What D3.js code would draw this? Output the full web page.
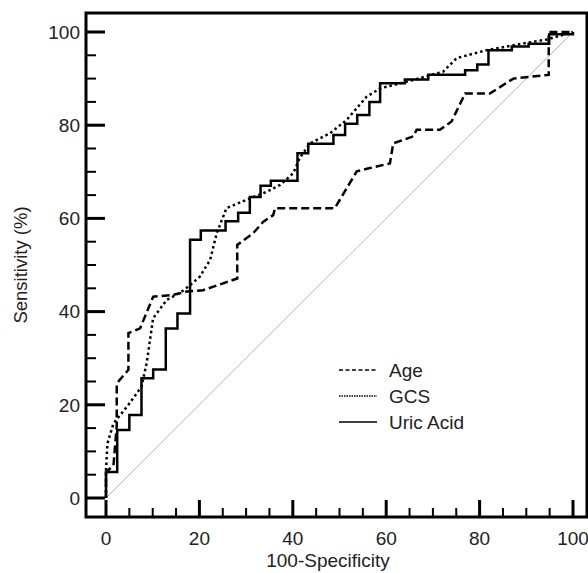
<!DOCTYPE html>
<html>
<head>
<meta charset="utf-8">
<script src="https://cdn.jsdelivr.net/npm/d3@7"></script>
<style>
  body { margin: 0; background: #fff; }
  text { font-family: "Liberation Sans", Arial, sans-serif; fill: #222; }
</style>
</head>
<body>
<div id="chart"></div>
<script>
// ===================== DATA =====================
// ROC curves (x = 100-Specificity, y = Sensitivity)

var ageX = [0, 0, 1.6, 2.3, 2.3, 4.8, 4.8, 7.3, 10.1, 14.4, 17.3, 20.8, 28.1, 28.1, 31.5, 33.7, 35.8, 36.2, 49.0, 53.7, 56.5, 60.8, 61.5, 65.8, 66.5, 71.5, 74.0, 76.9, 82.2, 87.2, 94.8, 94.8, 100];
var ageY = [0, 5.5, 7, 15.5, 24.6, 27.5, 35.4, 36.4, 43.2, 43.6, 44.3, 44.6, 47.1, 54.3, 56.8, 59.3, 60.7, 62.2, 62.2, 70.1, 70.8, 71.8, 76.1, 77.6, 79.0, 79.0, 80.8, 86.8, 86.8, 90.0, 90.8, 100, 100];

var gcsX = [0, 0, 0.3, 1.6, 4.8, 7.6, 8.7, 10.1, 13.0, 15.8, 17.8, 20.1, 22.3, 23.7, 25.8, 30.1, 34.4, 37.3, 40.1, 41.5, 43.7, 48.0, 51.5, 55.8, 58.7, 65.8, 72.2, 75.1, 81.5, 88.0, 94.4, 100];
var gcsY = [0, 6, 11.7, 16, 20, 23.9, 28.9, 38.6, 42.5, 44, 45.5, 47.5, 51.1, 56.8, 62.2, 64, 65.7, 67.2, 69.7, 73, 76.1, 78.3, 81.1, 86.1, 87.9, 89.7, 91.5, 94.4, 96.1, 97.3, 98.4, 100];

// step curve: each point is the top of a vertical rise
var uricX = [0, 0, 2.4, 5.0, 7.6, 10.1, 12.8, 15.3, 18.0, 20.3, 25.6, 28.3, 30.8, 33.1, 35.3, 41.0, 43.3, 48.7, 51.2, 53.8, 56.4, 58.7, 64.0, 69.0, 76.9, 79.5, 81.9, 86.9, 90.5, 94.9, 94.9, 100];
var uricY = [0, 5.6, 14.6, 17.8, 25.7, 27.6, 36.4, 39.6, 55.4, 57.4, 59.4, 61.2, 64.6, 67.0, 68.1, 74.0, 76.0, 77.9, 80.3, 82.2, 85.0, 89.0, 89.8, 90.8, 91.8, 93.0, 96.1, 96.9, 97.5, 98.3, 99.5, 100];

var seriesNames = ["Age", "GCS", "Uric Acid"];
var xTicks = [0, 20, 40, 60, 80, 100];
var yTicks = [0, 20, 40, 60, 80, 100];
var minorTicks = d3.range(0, 101, 5);

// ===================== LAYOUT =====================
var svgWidth = 588;
var svgHeight = 573;

// frame of the plot box
var boxLeft = 86, boxRight = 587, boxTop = 13, boxBottom = 517;

var svg = d3.select("#chart").append("svg")
  .attr("width", svgWidth)
  .attr("height", svgHeight);

var xScale = d3.scaleLinear().domain([0, 100]).range([106, 573]);
var yScale = d3.scaleLinear().domain([0, 100]).range([498, 32]);

function toPoints(xs, ys) {
  return xs.map((x, i) => [x, ys[i]]);
}

// ===================== FRAME & AXES =====================
var frame = svg.append("g");
frame.append("path")
  .attr("d", `M${boxLeft},${boxBottom}V${boxTop}H${boxRight}V${boxBottom}Z`)
  .attr("fill", "none")
  .attr("stroke", "#000")
  .attr("stroke-width", 3);

// y ticks (pointing inward)
frame.selectAll("line.yminor")
  .data(minorTicks)
  .enter()
  .append("line")
  .attr("x1", boxLeft)
  .attr("x2", d => yTicks.includes(d) ? boxLeft + 19 : boxLeft + 10)
  .attr("y1", d => yScale(d))
  .attr("y2", d => yScale(d))
  .attr("stroke", "#000")
  .attr("stroke-width", d => yTicks.includes(d) ? 3 : 2);

// x ticks (pointing up)
frame.selectAll("line.xminor")
  .data(minorTicks)
  .enter()
  .append("line")
  .attr("x1", d => xScale(d))
  .attr("x2", d => xScale(d))
  .attr("y1", boxBottom)
  .attr("y2", d => xTicks.includes(d) ? boxBottom - 17 : boxBottom - 9)
  .attr("stroke", "#000")
  .attr("stroke-width", d => xTicks.includes(d) ? 3 : 2);

frame.selectAll("text.ylab")
  .data(yTicks)
  .enter()
  .append("text")
  .attr("x", 80)
  .attr("y", d => yScale(d))
  .attr("dy", "0.36em")
  .attr("text-anchor", "end")
  .style("font-size", "19px")
  .text(d => d);

frame.selectAll("text.xlab")
  .data(xTicks)
  .enter()
  .append("text")
  .attr("x", d => xScale(d))
  .attr("y", 545)
  .attr("text-anchor", "middle")
  .style("font-size", "19px")
  .text(d => d);

svg.append("text")
  .attr("x", 328)
  .attr("y", 567)
  .attr("text-anchor", "middle")
  .style("font-size", "19px")
  .text("100-Specificity");

svg.append("text")
  .attr("transform", "translate(27, 265) rotate(-90)")
  .attr("text-anchor", "middle")
  .style("font-size", "18.5px")
  .text("Sensitivity (%)");

// ===================== CURVES =====================
var line = d3.line().x(d => xScale(d[0])).y(d => yScale(d[1]));
var stepLine = d3.line().x(d => xScale(d[0])).y(d => yScale(d[1])).curve(d3.curveStepAfter);

// reference diagonal
svg.append("path")
  .attr("d", line([[0, 0], [100, 100]]))
  .attr("fill", "none")
  .attr("stroke", "#b4b4b4")
  .attr("stroke-width", 1);

svg.append("path")
  .attr("d", line(toPoints(ageX, ageY)))
  .attr("fill", "none")
  .attr("stroke", "#000")
  .attr("stroke-width", 2.5)
  .attr("stroke-dasharray", "8,4");

svg.append("path")
  .attr("d", line(toPoints(gcsX, gcsY)))
  .attr("fill", "none")
  .attr("stroke", "#000")
  .attr("stroke-width", 2.5)
  .attr("stroke-dasharray", "2.5,3");

svg.append("path")
  .attr("d", stepLine(toPoints(uricX, uricY)))
  .attr("fill", "none")
  .attr("stroke", "#000")
  .attr("stroke-width", 2.5);

// ===================== LEGEND =====================
var dashes = ["4,2.5", "1.5,1", null];
var legend = svg.append("g").attr("transform", "translate(339, 370)");

seriesNames.forEach((name, i) => {
  var row = legend.append("g").attr("transform", `translate(0, ${i * 26})`);
  row.append("line")
    .attr("x1", 0)
    .attr("x2", 38)
    .attr("stroke", "#000")
    .attr("stroke-width", 1.5)
    .attr("stroke-dasharray", dashes[i]);
  row.append("text")
    .attr("x", 50)
    .attr("dy", "0.36em")
    .style("font-size", "19px")
    .text(name);
});
</script>
</body>
</html>
